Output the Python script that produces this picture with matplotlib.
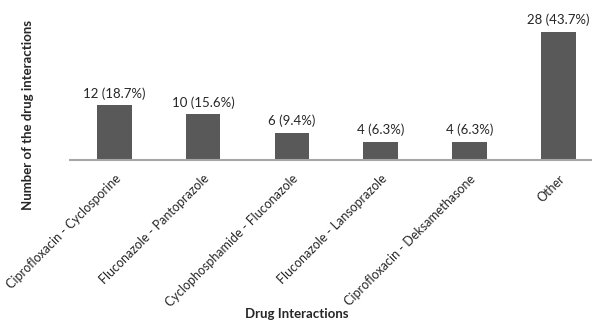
import matplotlib.pyplot as plt
import numpy as np

plt.rcParams['font.family'] = ['Lato', 'DejaVu Sans']

interactions = ['Ciprofloxacin - Cyclosporine', 'Fluconazole - Pantoprazole',
                'Cyclophosphamide - Fluconazole', 'Fluconazole - Lansoprazole',
                'Ciprofloxacin - Deksamethasone', 'Other']
counts = [12, 10, 6, 4, 4, 28]
percents = [18.7, 15.6, 9.4, 6.3, 6.3, 43.7]

W, H = 592, 320
fig = plt.figure(figsize=(W / 100, H / 100), dpi=100)
ax = fig.add_axes([70 / W, 1 - 160 / H, (W - 70) / W, 140 / H])

x = np.arange(len(interactions))
bars = ax.bar(x, counts, width=0.39, color='#595959')
labels = [f'{c} ({p}%)' for c, p in zip(counts, percents)]
ax.bar_label(bars, labels=labels, padding=4, fontsize=9.5, color='#262626')

ax.set_xlim(-0.5, 5.38)
ax.set_ylim(0, 30.6)
for s in ['top', 'right', 'left']:
    ax.spines[s].set_visible(False)
ax.spines['bottom'].set_color('#a6a6a6')
ax.spines['bottom'].set_linewidth(1.5)
ax.set_yticks([])
ax.tick_params(axis='x', length=0, pad=9)
ax.set_xticks(x, interactions, rotation=45, ha='right', va='top',
              rotation_mode='anchor', fontsize=9, color='#262626')

fig.text(28 / W, 1 - 115 / H, 'Number of the drug interactions', rotation=90,
         ha='center', va='center', fontsize=9.5, fontweight='bold', color='#262626')
fig.text(297 / W, 1 - 314 / H, 'Drug Interactions', ha='center', va='center',
         fontsize=9.5, fontweight='bold', color='#262626')

fig.savefig('out.png', dpi=100)
